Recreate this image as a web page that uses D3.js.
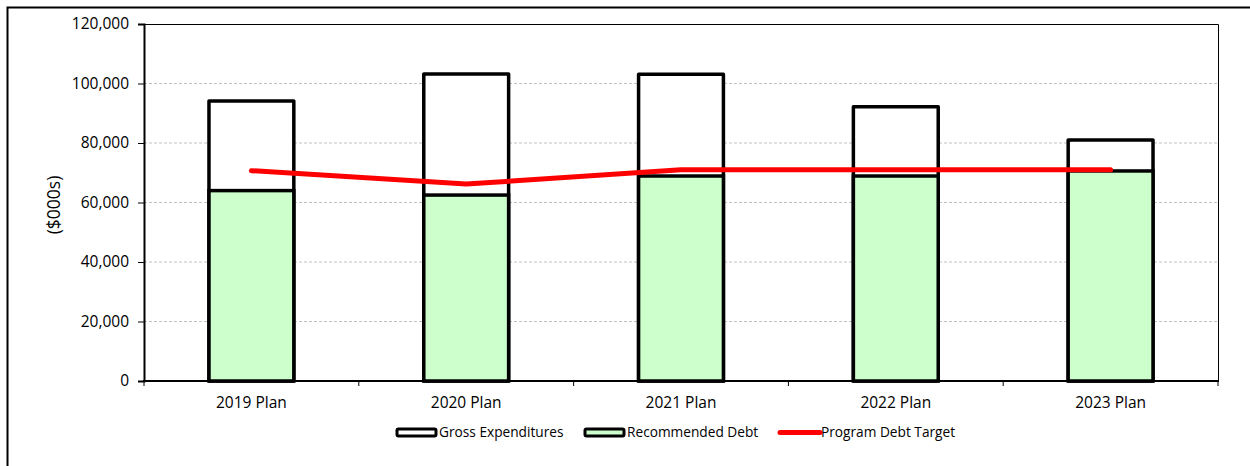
<!DOCTYPE html>
<html>
<head>
<meta charset="utf-8">
<script src="https://cdn.jsdelivr.net/npm/d3@7/dist/d3.min.js"></script>
<style>
  body { margin: 0; background: #fff; }
  svg { display: block; font-family: "Open Sans", sans-serif; }
</style>
</head>
<body>
<svg width="1250" height="466"></svg>
<script>
// data ($000s)
var plans = ["2019 Plan", "2020 Plan", "2021 Plan", "2022 Plan", "2023 Plan"];
var grossExpenditures = [94100, 103200, 103100, 92200, 81000];
var recommendedDebt = [64000, 62500, 68900, 68900, 70600];
var debtTarget = [70700, 66200, 71000, 71000, 71000];
var yTicks = [0, 20000, 40000, 60000, 80000, 100000, 120000];

var svg = d3.select("svg");

// outer frame (clipped on right/bottom like the screenshot)
svg.append("rect")
    .attr("x", 7.5).attr("y", 7.5)
    .attr("width", 1260).attr("height", 480)
    .attr("fill", "none").attr("stroke", "#000").attr("stroke-width", 2);

var pLeft = 144, pTop = 24, pRight = 1218, pBottom = 381;

var x = d3.scaleBand().domain(plans).range([pLeft, pRight]).paddingInner(0.605).paddingOuter(0.3025);
var y = d3.scaleLinear().domain([0, 120000]).range([pBottom, pTop]);

// gridlines
svg.append("g").selectAll("line")
    .data(yTicks.filter(function(d) { return d > 0 && d < 120000; }))
  .enter().append("line")
    .attr("x1", pLeft).attr("x2", pRight)
    .attr("y1", function(d) { return y(d); }).attr("y2", function(d) { return y(d); })
    .attr("stroke", "#c0c0c0").attr("stroke-width", 1).attr("stroke-dasharray", "3,2");

// plot area frame top/right
svg.append("path")
    .attr("d", "M" + pLeft + "," + (pTop + 0.5) + "H" + (pRight + 0.5) + "V" + pBottom)
    .attr("fill", "none").attr("stroke", "#000").attr("stroke-width", 1);

// gross expenditures bars (full height, behind)
svg.append("g").selectAll("rect")
    .data(plans)
  .enter().append("rect")
    .attr("x", function(d) { return x(d); })
    .attr("y", function(d, i) { return y(grossExpenditures[i]); })
    .attr("width", x.bandwidth())
    .attr("height", function(d, i) { return pBottom - y(grossExpenditures[i]); })
    .attr("fill", "#fff").attr("stroke", "#000").attr("stroke-width", 3.5)
    .attr("stroke-linejoin", "round");

// recommended debt bars
svg.append("g").selectAll("rect")
    .data(plans)
  .enter().append("rect")
    .attr("x", function(d) { return x(d); })
    .attr("y", function(d, i) { return y(recommendedDebt[i]); })
    .attr("width", x.bandwidth())
    .attr("height", function(d, i) { return pBottom - y(recommendedDebt[i]); })
    .attr("fill", "#ccffcc").attr("stroke", "#000").attr("stroke-width", 3.5);

// axes
var yAxis = svg.append("g")
    .attr("transform", "translate(" + pLeft + ",0)")
    .call(d3.axisLeft(y).tickValues(yTicks).tickSize(6).tickPadding(9)
      .tickFormat(d3.format(",")));
yAxis.select(".domain").attr("stroke-width", 2);
yAxis.selectAll("text").attr("font-size", 15.5).attr("font-family", "Open Sans").attr("fill", "#000");

var xAxis = svg.append("g")
    .attr("transform", "translate(0," + pBottom + ")")
    .call(d3.axisBottom(x).tickSize(0).tickPadding(16));
xAxis.select(".domain").remove();
xAxis.selectAll("text").attr("font-size", 15.5).attr("font-family", "Open Sans").attr("fill", "#000");

svg.append("line")
    .attr("x1", pLeft - 1).attr("x2", pRight + 1)
    .attr("y1", pBottom).attr("y2", pBottom)
    .attr("stroke", "#000").attr("stroke-width", 2);

// category boundary ticks
var bounds = d3.range(plans.length + 1).map(function(i) { return pLeft + i * (pRight - pLeft) / plans.length; });
svg.append("g").selectAll("line").data(bounds)
  .enter().append("line")
    .attr("x1", function(d) { return d; }).attr("x2", function(d) { return d; })
    .attr("y1", pBottom).attr("y2", pBottom + 5)
    .attr("stroke", "#000").attr("stroke-width", 1);

// target line
var line = d3.line()
    .x(function(d, i) { return x(plans[i]) + x.bandwidth() / 2; })
    .y(function(d) { return y(d); });
svg.append("path")
    .datum(debtTarget)
    .attr("d", line)
    .attr("fill", "none").attr("stroke", "#ff0000").attr("stroke-width", 5)
    .attr("stroke-linecap", "round").attr("stroke-linejoin", "round");

// y title
svg.append("text")
    .attr("transform", "translate(60,205) rotate(-90)")
    .attr("text-anchor", "middle")
    .attr("font-size", 17.5).attr("font-family", "Open Sans")
    .text("($000s)");

// legend
var legend = [
  { name: "Gross Expenditures", type: "bar", fill: "#fff", x: 397 },
  { name: "Recommended Debt", type: "bar", fill: "#ccffcc", x: 585 },
  { name: "Program Debt Target", type: "line", x: 779 }
];
var lg = svg.append("g").selectAll("g").data(legend)
  .enter().append("g")
    .attr("transform", function(d) { return "translate(" + d.x + ",432)"; });
lg.filter(function(d) { return d.type === "bar"; }).append("rect")
    .attr("x", 0).attr("y", -3).attr("width", 39).attr("height", 7)
    .attr("fill", function(d) { return d.fill; })
    .attr("stroke", "#000").attr("stroke-width", 3).attr("rx", 1.5);
lg.filter(function(d) { return d.type === "line"; }).append("line")
    .attr("x1", 1).attr("x2", 41).attr("y1", 0.5).attr("y2", 0.5)
    .attr("stroke", "#ff0000").attr("stroke-width", 5).attr("stroke-linecap", "round");
lg.append("text")
    .attr("x", 42).attr("y", 5)
    .attr("font-size", 13.7).attr("font-family", "Open Sans")
    .text(function(d) { return d.name; });
</script>
</body>
</html>
